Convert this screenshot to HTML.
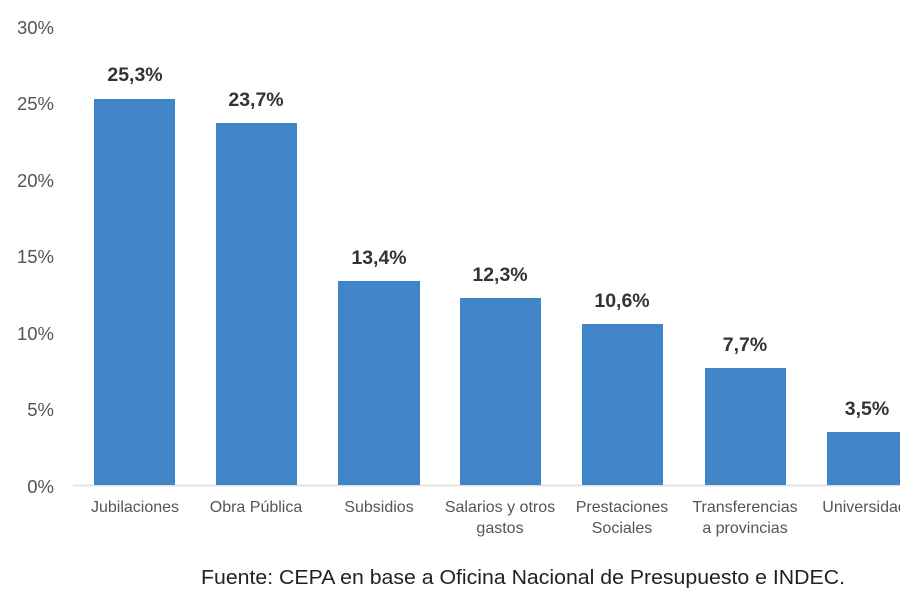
<!DOCTYPE html>
<html><head><meta charset="utf-8"><style>
body{margin:0;background:#fff;}
svg{display:block;font-family:"Liberation Sans",sans-serif;}
</style></head><body>
<svg width="900" height="600" xmlns="http://www.w3.org/2000/svg">
<g fill="#555" font-size="18.5" text-anchor="end">
<text x="54" y="34">30%</text>
<text x="54" y="110">25%</text>
<text x="54" y="187">20%</text>
<text x="54" y="263">15%</text>
<text x="54" y="340">10%</text>
<text x="54" y="416">5%</text>
<text x="54" y="493">0%</text>
</g>
<line x1="73" y1="485.5" x2="900" y2="485.5" stroke="#ddd" stroke-width="1.5"/>
<g fill="#3f85c8">
<rect x="94" y="99" width="81" height="386"/>
<rect x="216" y="123" width="81" height="362"/>
<rect x="338" y="281" width="82" height="204"/>
<rect x="460" y="298" width="81" height="187"/>
<rect x="582" y="324" width="81" height="161"/>
<rect x="705" y="368" width="81" height="117"/>
<rect x="827" y="432" width="81" height="53"/>
</g>
<g fill="#333" font-size="19.5" font-weight="bold" text-anchor="middle">
<text x="135" y="81">25,3%</text>
<text x="256" y="106">23,7%</text>
<text x="379" y="264">13,4%</text>
<text x="500" y="281">12,3%</text>
<text x="622" y="307">10,6%</text>
<text x="745" y="351">7,7%</text>
<text x="867" y="415">3,5%</text>
</g>
<g fill="#555" font-size="16" text-anchor="middle">
<text x="135" y="512">Jubilaciones</text>
<text x="256" y="512">Obra Pública</text>
<text x="379" y="512">Subsidios</text>
<text x="500" y="512">Salarios y otros</text>
<text x="500" y="533">gastos</text>
<text x="622" y="512">Prestaciones</text>
<text x="622" y="533">Sociales</text>
<text x="745" y="512">Transferencias</text>
<text x="745" y="533">a provincias</text>
<text x="873" y="512">Universidades</text>
</g>
<text x="201" y="584" fill="#222" font-size="20" textLength="644" lengthAdjust="spacingAndGlyphs">Fuente: CEPA en base a Oficina Nacional de Presupuesto e INDEC.</text>
</svg>
</body></html>
